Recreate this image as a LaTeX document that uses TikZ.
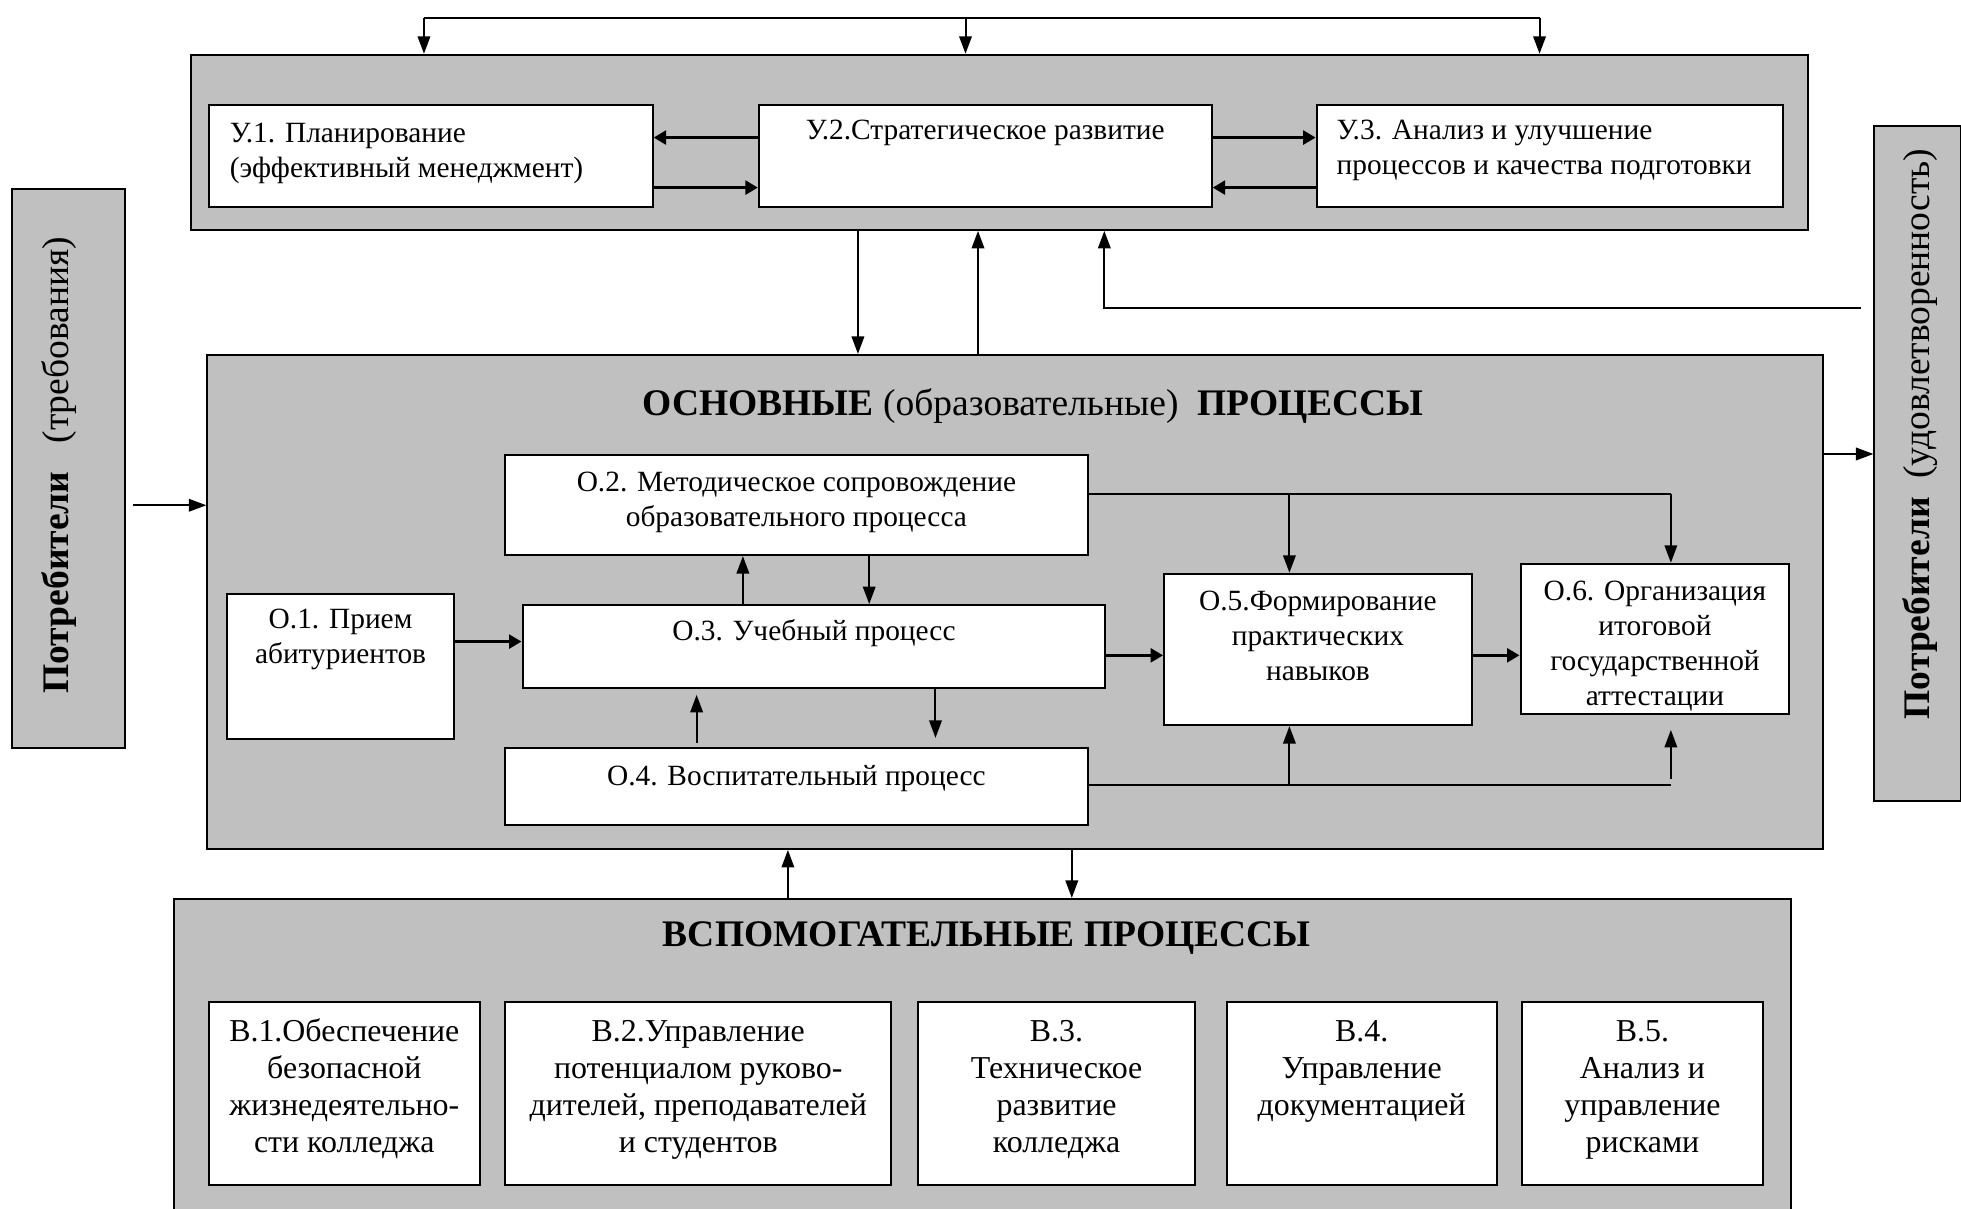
\documentclass[tikz,border=0pt]{standalone}
\usepackage{fontspec}
\setmainfont{Liberation Serif}
\usetikzlibrary{arrows.meta}
\definecolor{grp}{HTML}{C0C0C0}
\newcommand\tb[5]{\parbox[t][#2pt][t]{#1pt}{#4\rule{0pt}{#3pt}#5\par}}
\tikzset{
  grpbox/.style={draw=black, fill=grp, line width=1.6pt, inner sep=0pt, anchor=north west},
  pbox/.style={draw=black, fill=white, line width=1.6pt, inner sep=0pt, anchor=north west,
    font=\fontsize{23.5pt}{28pt}\selectfont},
  vbox/.style={pbox, font=\fontsize{25.5pt}{29.6pt}\selectfont},
  ln/.style={line width=1.6pt},
  arr/.style={line width=1.6pt, -{Triangle[length=14pt,width=10pt]}},
  barr/.style={line width=2.6pt, -{Triangle[length=10pt,width=11pt]}},
  ttl/.style={anchor=base, inner sep=0pt, font=\fontsize{30pt}{34pt}\selectfont},
  rot/.style={rotate=90, inner sep=0pt, font=\fontsize{30pt}{34pt}\selectfont},
}
\begin{document}
\begin{tikzpicture}[x=1pt,y=-1pt]
\useasboundingbox (0,0) rectangle (1568,966);
% group boxes
\node[grpbox, minimum width=1293pt, minimum height=140pt] (ug) at (152,43) {};
\node[grpbox, minimum width=1292pt, minimum height=395pt] (mg) at (165,283) {};
\node[grpbox, minimum width=1293pt, minimum height=270pt] (vg) at (138,718) {};
\node[grpbox, minimum width=90pt, minimum height=447pt] (lc) at (9,150) {};
\node[grpbox, minimum width=69pt, minimum height=540pt] (rc) at (1498,100) {};
% consumer texts
\node[rot] (lct) at (47,372) {\textbf{Потребители}\ \ \ (требования)};
\node[rot] (rct) at (1535,347) {\textbf{Потребители}\ \ (удовлетворенность)};
% titles
\node[ttl] (mt) at (826,332) {\textbf{ОСНОВНЫЕ} (образовательные)\ \ \textbf{ПРОЦЕССЫ}};
\node[ttl] (vt) at (789,757) {\textbf{ВСПОМОГАТЕЛЬНЫЕ ПРОЦЕССЫ}};
% management boxes
\node[pbox] (u1) at (166,83) {\tb{355}{82}{30}{\raggedright\leftskip=17pt}{У.1. Планирование\\(эффективный менеджмент)}};
\node[pbox] (u2) at (606,83) {\tb{362}{82}{28}{\centering}{У.2.Стратегическое развитие}};
\node[pbox] (u3) at (1052,83) {\tb{373}{82}{28}{\raggedright\leftskip=16pt}{У.3. Анализ и улучшение\\процессов и качества подготовки}};
% main process boxes
\node[pbox] (o1) at (181,474) {\tb{181}{116}{28}{\centering}{О.1. Прием\\абитуриентов}};
\node[pbox] (o2) at (403,363) {\tb{466}{80}{29}{\centering}{О.2. Методическое сопровождение\\образовательного процесса}};
\node[pbox] (o3) at (417,483) {\tb{466}{66}{28}{\centering}{О.3. Учебный процесс}};
\node[pbox] (o4) at (403,597) {\tb{466}{62}{30}{\centering}{О.4. Воспитательный процесс}};
\node[pbox] (o5) at (930,458) {\tb{246}{121}{29}{\centering}{О.5.Формирование\\практических\\навыков}};
\node[pbox] (o6) at (1215,450) {\tb{215}{120}{29}{\centering}{О.6. Организация\\итоговой\\государственной\\аттестации}};
% support boxes
\node[vbox] (v1) at (166,800) {\tb{217}{147}{32}{\centering}{В.1.Обеспечение\\безопасной\\жизнедеятельно-\\сти колледжа}};
\node[vbox] (v2) at (403,800) {\tb{309}{147}{32}{\centering}{В.2.Управление\\потенциалом руково-\\дителей, преподавателей\\и студентов}};
\node[vbox] (v3) at (733,800) {\tb{222}{147}{32}{\centering}{В.3.\\Техническое\\развитие\\колледжа}};
\node[vbox] (v4) at (980,800) {\tb{216}{147}{32}{\centering}{В.4.\\Управление\\документацией}};
\node[vbox] (v5) at (1216,800) {\tb{193}{147}{32}{\centering}{В.5.\\Анализ и\\управление\\рисками}};
% top feedback line
\coordinate (f1) at (339,14); \coordinate (f2) at (772,14); \coordinate (f3) at (1231,14);
\draw[ln] (f1) -- (f3);
\draw[arr] (f1) -- (f1 |- ug.north);
\draw[arr] (f2) -- (f2 |- ug.north);
\draw[arr] (f3) -- (f3 |- ug.north);
% between management boxes
\draw[barr] (u2.west |- 0,110) -- (u1.east |- 0,110);
\draw[barr] (u1.east |- 0,150) -- (u2.west |- 0,150);
\draw[barr] (u2.east |- 0,110) -- (u3.west |- 0,110);
\draw[barr] (u3.west |- 0,150) -- (u2.east |- 0,150);
% management <-> main
\draw[arr] (686,0 |- ug.south) -- (686,0 |- mg.north);
\draw[arr] (782,0 |- mg.north) -- (782,0 |- ug.south);
\coordinate (fr) at (1488,246); \coordinate (fm) at (883,246);
\draw[arr] (fr) -- (fm) -- (fm |- ug.south);
% consumers
\draw[arr, shorten <=6pt] (lc.east |- 0,404) -- (mg.west |- 0,404);
\draw[arr] (mg.east |- 0,363) -- (rc.west |- 0,363);
% inside main
\draw[barr] (o1.east |- 0,513) -- (o3.west |- 0,513);
\draw[arr] (594,0 |- o3.north) -- (594,0 |- o2.south);
\draw[arr] (695,0 |- o2.south) -- (695,0 |- o3.north);
\draw[arr, shorten <=3pt, shorten >=5pt] (557,0 |- o4.north) -- (557,0 |- o3.south);
\draw[arr, shorten >=7pt] (748,0 |- o3.south) -- (748,0 |- o4.north);
\draw[barr] (o3.east |- 0,524) -- (o5.west |- 0,524);
\draw[barr] (o5.east |- 0,524) -- (o6.west |- 0,524);
\coordinate (j1) at (1031,395); \coordinate (j2) at (1336,395);
\draw[ln] (o2.east |- j1) -- (j2);
\draw[arr] (j1) -- (j1 |- o5.north);
\draw[arr] (j2) -- (j2 |- o6.north);
\coordinate (k1) at (1031,628); \coordinate (k2) at (1336,628);
\draw[ln] (o4.east |- k1) -- (k2);
\draw[arr] (k1) -- (k1 |- o5.south);
\draw[arr, shorten <=5pt, shorten >=12pt] (k2) -- (k2 |- o6.south);
% main <-> support
\draw[arr] (630,0 |- vg.north) -- (630,0 |- mg.south);
\draw[arr] (857,0 |- mg.south) -- (857,0 |- vg.north);
\end{tikzpicture}
\end{document}
